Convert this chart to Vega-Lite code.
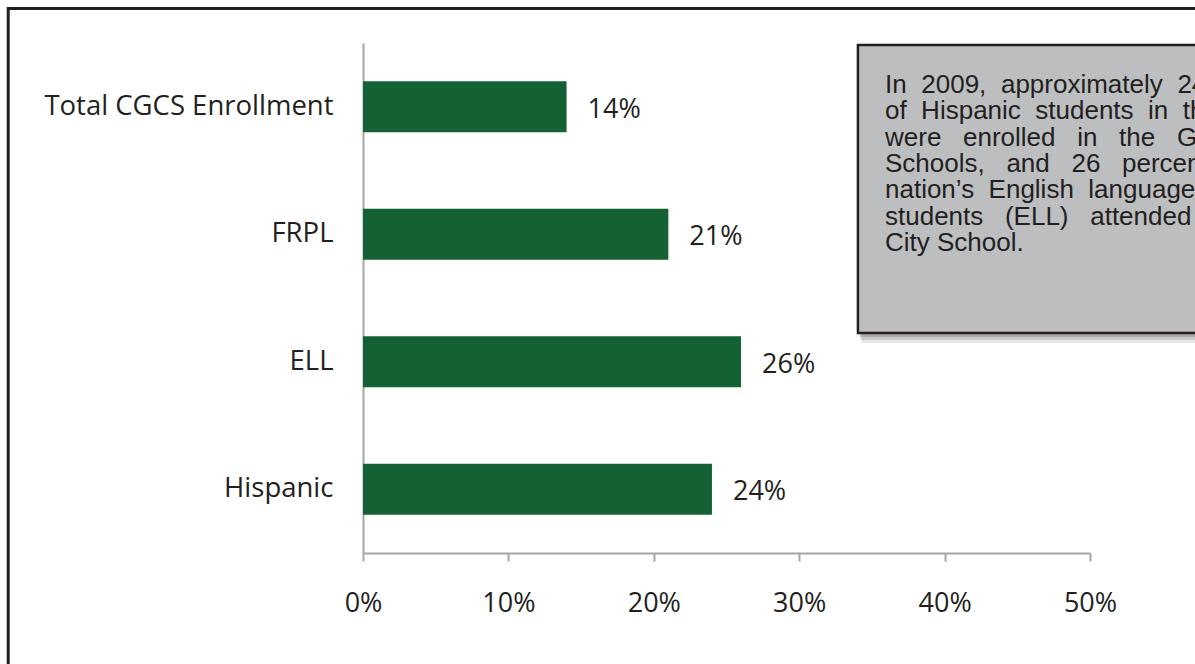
{
  "$schema": "https://vega.github.io/schema/vega-lite/v6.json",
  "width": 727,
  "height": 510,
  "autosize": {"type": "none"},
  "padding": {"left": 363, "top": 43, "right": 105, "bottom": 111},
  "background": "white",
  "config": {
    "view": {"stroke": null},
    "text": {"font": "Open Sans"}
  },
  "datasets": {
    "bars": [
      {"category": "Total CGCS Enrollment", "pct": 14, "label": "14%"},
      {"category": "FRPL", "pct": 21, "label": "21%"},
      {"category": "ELL", "pct": 26, "label": "26%"},
      {"category": "Hispanic", "pct": 24, "label": "24%"}
    ]
  },
  "resolve": {"scale": {"x": "independent", "y": "independent"}, "axis": {"x": "independent", "y": "independent"}},
  "layer": [
    {
      "data": {"values": [{"x0": -24.4, "x1": 70, "y0": -34.5, "y1": 650}]},
      "mark": {"type": "rect", "fill": null, "stroke": "#231f20", "strokeWidth": 3},
      "encoding": {
        "x": {"field": "x0", "type": "quantitative", "scale": {"domain": [0, 50], "nice": false, "zero": false}, "axis": null},
        "x2": {"field": "x1"},
        "y": {"field": "y0", "type": "quantitative", "scale": {"domain": [0, 510], "reverse": true, "nice": false, "zero": false}, "axis": null},
        "y2": {"field": "y1"}
      }
    },
    {
      "data": {"name": "bars"},
      "encoding": {
        "y": {
          "field": "category", "type": "nominal", "sort": null,
          "scale": {"paddingInner": 0.6, "paddingOuter": 0.3},
          "axis": {
            "title": null, "ticks": false, "tickSize": 0, "labelPadding": 30,
            "labelFont": "Open Sans", "labelFontSize": 27.5, "labelColor": "#231f20",
            "domainColor": "#a6a6a6", "domainWidth": 2, "grid": false, "labelLimit": 400
          }
        },
        "x": {
          "field": "pct", "type": "quantitative",
          "scale": {"domain": [0, 50], "nice": false},
          "axis": {
            "title": null, "values": [0, 10, 20, 30, 40, 50], "labelExpr": "datum.value + '%'",
            "tickSize": 8, "tickColor": "#a6a6a6", "tickWidth": 2,
            "domainColor": "#a6a6a6", "domainWidth": 2, "grid": false,
            "labelPadding": 29, "labelFont": "Open Sans", "labelFontSize": 27, "labelColor": "#231f20",
            "labelFlush": false, "labelOverlap": false
          }
        }
      },
      "layer": [
        {"mark": {"type": "bar", "color": "#146234"}},
        {
          "mark": {"type": "text", "align": "left", "baseline": "middle", "dx": 21, "dy": 3, "font": "Open Sans", "fontSize": 27, "color": "#231f20"},
          "encoding": {"text": {"field": "label"}}
        }
      ]
    },
    {
      "data": {"values": [
        {"x0": 34.3, "x1": 70, "y0": 12, "y1": 300, "o": 0.10},
        {"x0": 34.2, "x1": 70, "y0": 9, "y1": 297, "o": 0.12},
        {"x0": 34.15, "x1": 70, "y0": 6, "y1": 294, "o": 0.15}
      ]},
      "mark": {"type": "rect", "fill": "#000000"},
      "encoding": {
        "x": {"field": "x0", "type": "quantitative", "scale": {"domain": [0, 50], "nice": false, "zero": false}, "axis": null},
        "x2": {"field": "x1"},
        "y": {"field": "y0", "type": "quantitative", "scale": {"domain": [0, 510], "reverse": true, "nice": false, "zero": false}, "axis": null},
        "y2": {"field": "y1"},
        "opacity": {"field": "o", "type": "quantitative", "scale": null, "legend": null}
      }
    },
    {
      "data": {"values": [{"x0": 34.04, "x1": 70, "y0": 2, "y1": 290}]},
      "mark": {"type": "rect", "fill": "#bcbec0", "stroke": "#231f20", "strokeWidth": 2.5},
      "encoding": {
        "x": {"field": "x0", "type": "quantitative", "scale": {"domain": [0, 50], "nice": false, "zero": false}, "axis": null},
        "x2": {"field": "x1"},
        "y": {"field": "y0", "type": "quantitative", "scale": {"domain": [0, 510], "reverse": true, "nice": false, "zero": false}, "axis": null},
        "y2": {"field": "y1"}
      }
    },
    {
      "data": {"values": [{"x": 35.9, "y": 50, "t": "In\u00a0\u2009\u200a2009,\u00a0\u2009\u200aapproximately\u00a0\u2009\u200a24\u00a0\u2009\u200apercent\nof\u00a0\u00a0Hispanic\u00a0\u00a0students\u00a0\u00a0in\u00a0\u00a0the\u00a0\u00a0nation\nwere\u00a0\u00a0\u00a0enrolled\u00a0\u00a0\u00a0in\u00a0\u00a0\u00a0the\u00a0\u00a0\u00a0Great\u00a0\u00a0\u00a0City\nSchools,\u00a0\u00a0\u00a0and\u00a0\u00a0\u00a026\u00a0\u00a0\u00a0percent\u00a0\u00a0\u00a0of\u00a0\u00a0\u00a0the\nnation’s\u00a0\u00a0English\u00a0\u00a0language\u00a0\u00a0learner\nstudents\u00a0\u00a0\u00a0(ELL)\u00a0\u00a0\u00a0attended\u00a0\u00a0\u00a0a\u00a0\u00a0\u00a0Great\nCity School."}]},
      "mark": {"type": "text", "align": "left", "baseline": "alphabetic", "font": "Liberation Sans", "fontSize": 26, "color": "#231f20", "lineBreak": "\n", "lineHeight": 26.3},
      "encoding": {
        "x": {"field": "x", "type": "quantitative", "scale": {"domain": [0, 50], "nice": false, "zero": false}, "axis": null},
        "y": {"field": "y", "type": "quantitative", "scale": {"domain": [0, 510], "reverse": true, "nice": false, "zero": false}, "axis": null},
        "text": {"field": "t"}
      }
    }
  ]
}
